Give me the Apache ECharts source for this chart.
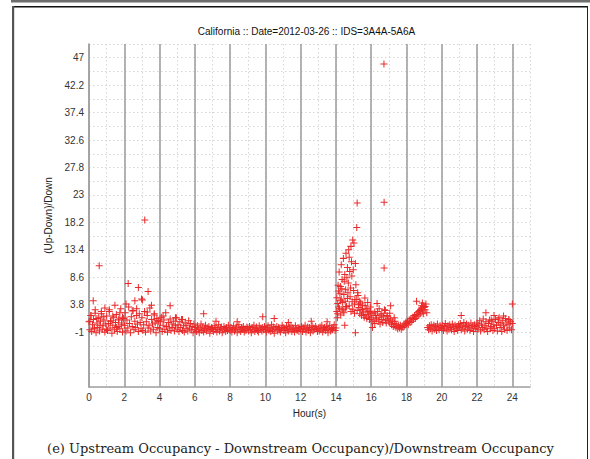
<!DOCTYPE html>
<html>
<head>
<meta charset="utf-8">
<script src="https://cdn.jsdelivr.net/npm/echarts@6/dist/echarts.min.js"></script>
<style>
  html, body { margin: 0; padding: 0; background: #fff; }
  #chart { width: 590px; height: 459px; }
</style>
</head>
<body>
<div id="chart"></div>
<script>
// Occupancy ratio (Up-Down)/Down, one sample every 3 minutes from 0 h to 24 h
const sampleStepHours = 0.05;
const ratio = [
  // 0 h
  0.8,-0.6,1.9,-0.9,0.3, 1.2,-0.4,2.3,-1.1,0.6, -0.2,1.5,-0.8,0.9,2.6, -0.5,0.1,1.1,-1.0,0.4,
  // 1 h
  1.8,-0.7,0.5,2.9,-0.3, 1.0,-1.2,0.2,1.6,-0.6, 0.7,2.1,-0.9,0.0,1.3, -0.4,3.1,0.6,-1.0,1.4,
  // 2 h
  0.2,2.4,-0.8,1.1,-0.3, 3.4,0.5,-1.1,1.7,0.0, 2.8,-0.6,0.9,-0.2,1.9, 0.4,-0.9,2.2,0.7,-0.4,
  // 3 h
  1.5,-0.7,0.3,2.6,-1.0, 0.8,1.9,-0.3,0.1,3.2, -0.8,1.2,0.4,-0.5,2.0, 0.6,-1.1,1.0,-0.2,0.9,
  // 4 h
  -0.4,0.8,1.6,-0.9,0.2, 1.1,-0.6,2.4,0.0,-1.0, 0.7,-0.3,1.3,-0.7,0.4, -0.2,0.9,-0.8,0.1,1.5,
  // 5 h
  -0.5,0.3,-0.9,0.8,-0.2, 1.2,-0.7,0.1,-1.0,0.6, -0.4,0.2,-0.8,1.0,-0.3, 0.5,-0.6,0.0,-1.1,0.4,
  // 6 h
  -0.6,-0.2,-0.9,0.1,-0.5, -1.1,-0.3,0.4,-0.7,-0.1, -1.0,-0.4,0.2,-0.8,-0.3, -0.6,0.0,-1.2,-0.5,-0.2,
  // 7 h
  -0.4,-0.9,0.1,-0.6,-0.2, -1.0,-0.5,0.3,-0.8,-0.3, -0.1,-1.1,-0.6,0.0,-0.4, -0.9,-0.2,-0.7,0.2,-0.5,
  // 8 h
  -0.7,-0.2,-1.0,-0.4,0.1, -0.8,-0.5,-0.1,-1.1,-0.3, 0.3,-0.6,-0.9,-0.2,-0.5, 0.0,-1.0,-0.4,-0.7,-0.1,
  // 9 h
  -0.3,-0.8,0.0,-0.5,-1.1, -0.2,-0.6,0.2,-0.9,-0.4, -0.1,-0.7,-1.0,0.1,-0.5, -0.3,-0.8,-0.2,-0.6,0.0,
  // 10 h
  -0.5,-1.0,-0.2,0.1,-0.7, -0.4,-0.9,0.3,-0.6,-0.1, -1.2,-0.3,-0.5,0.0,-0.8, -0.2,-0.6,-1.0,-0.4,0.2,
  // 11 h
  -0.2,-0.7,-0.4,-1.1,0.0, -0.5,-0.8,-0.1,-0.6,0.2, -0.9,-0.3,-0.5,-1.0,0.1, -0.4,-0.7,-0.2,-0.9,-0.3,
  // 12 h
  -0.6,0.0,-0.9,-0.3,-0.5, 0.2,-1.0,-0.4,-0.1,-0.7, -0.2,-1.1,-0.5,0.1,-0.8, -0.3,-0.6,0.0,-0.4,-0.9,
  // 13 h
  -0.3,-0.8,-0.1,-0.6,0.2, -1.0,-0.4,-0.2,-0.7,0.0, -0.5,-1.1,-0.3,0.1,-0.8, -0.4,-0.6,-0.2,0.3,-0.7,
  // 14 h
  -0.3,2.6,4.0,6.2,3.1, 7.0,4.8,8.2,2.7,5.6, 9.1,6.4,3.5,10.3,7.6, 12.1,5.2,14.0,8.8,15.1,
  // 15 h
  6.3,3.9,11.0,4.7,2.8, 5.4,3.3,2.2,4.1,1.9, 3.0,2.5,1.6,3.6,2.1, 1.4,2.7,1.8,1.2,2.4,
  // 16 h
  1.5,0.8,2.2,1.1,0.5, 1.9,1.3,2.6,0.9,1.6, 0.4,2.0,1.2,0.7,1.8, 2.9,1.0,0.6,1.7,1.3,
  // 17 h
  1.0,0.6,1.3,0.3,0.8, 0.0,0.5,0.9,-0.2,0.3, -0.4,0.1,-0.3,0.2,-0.5, 0.0,-0.2,0.4,0.1,0.6,
  // 18 h
  0.5,0.9,0.3,1.1,0.7, 1.4,0.9,1.6,1.2,1.9, 1.4,2.1,1.7,2.4,2.0, 2.8,2.3,3.2,2.7,3.6,
  // 19 h
  3.3,2.9,3.9,2.4,-0.2, -0.6,0.1,-0.4,0.3,-0.8, -0.1,0.2,-0.5,0.0,-0.7, 0.4,-0.3,-0.6,0.1,-0.2,
  // 20 h
  -0.4,0.2,-0.7,0.0,0.5, -0.3,-0.8,0.1,-0.5,0.3, -0.2,-0.6,0.4,-0.1,-0.9, 0.2,-0.4,0.0,-0.7,0.3,
  // 21 h
  -0.2,0.5,-0.6,0.1,-0.3, 0.7,-0.8,0.0,0.4,-0.5, 0.2,-0.1,-0.7,0.6,-0.3, 0.1,-0.9,0.3,-0.4,0.0,
  // 22 h
  0.6,-0.5,0.2,1.0,-0.8, 0.4,-0.2,1.3,-0.6,0.1, 0.8,-0.4,-0.9,0.5,1.1, -0.3,0.0,0.9,-0.7,0.3,
  // 23 h
  -0.4,1.2,0.2,-0.8,0.7, 1.5,-0.2,0.4,-0.9,1.0, 0.1,-0.5,1.4,0.6,-0.7, 0.3,1.1,-0.3,0.8,-0.6,
  // 24 h
  0.5
];

// Additional readings between the regular samples (spikes and busy periods)
const extraHours = [
  0.05, 0.12, 0.24, 0.30, 0.35, 0.45, 0.58, 0.62, 0.70, 0.80, 0.90, 1.00,
  1.15, 1.22, 1.35, 1.47, 1.55, 1.68, 1.75, 1.85, 1.90,
  2.10, 2.22, 2.45, 2.60, 2.70, 2.80, 2.98, 3.03, 3.16, 3.30, 3.35, 3.54, 3.70, 3.85,
  4.20, 4.60, 4.90, 5.30, 6.50, 7.20, 8.40, 9.85, 10.50, 11.30, 12.60, 13.50,
  14.05, 14.08, 14.10, 14.12, 14.15, 14.18, 14.22, 14.25, 14.27, 14.30, 14.33, 14.35, 14.38,
  14.42, 14.45, 14.47, 14.50, 14.52, 14.55, 14.57, 14.62, 14.65, 14.68, 14.72, 14.75, 14.78, 14.83,
  14.85, 14.88, 14.92, 14.95, 14.98, 15.02, 15.05, 15.07, 15.10, 15.13, 15.18, 15.20, 15.23,
  15.28, 15.35, 15.42, 15.50, 15.58, 15.64, 15.72, 15.80, 15.88, 15.95,
  16.07, 16.20, 16.33, 16.45, 16.60, 16.72, 16.73, 16.73, 16.80, 16.90,
  17.05, 17.10, 17.30,
  18.57, 18.70, 18.80, 18.85, 18.90, 18.95, 19.05,
  21.10, 22.50, 22.80, 22.96, 23.20, 23.50, 23.80, 24.00
];
const extraRatio = [
  0.9, 1.9, 4.5, -0.3, 2.9, 1.4, 10.6, 0.2, 2.2, 1.7, 3.2, -0.5,
  2.6, 0.9, 1.8, 3.7, -0.2, 1.1, 2.4, 0.3, 1.6,
  3.9, 7.5, 2.7, 4.5, 3.1, 6.8, 4.8, 4.6, 18.6, 2.5, 6.1, 3.7, 2.2, 1.4,
  1.8, 3.6, 1.5, 1.2, 2.2, 0.9, 0.8, 1.7, 1.4, 0.7, 0.9, 0.8,
  5.0, 1.5, 2.2, 7.2, 3.4, 9.5, 5.8, 4.5, 2.0, 10.8, 6.6, 3.0, 4.2,
  11.9, 2.4, 7.9, 0.2, 4.4, 3.2, 12.8, 8.5, 4.9, 5.9, 13.4, 3.6, 9.6, 6.7,
  2.6, 11.3, 4.3, 3.0, 9.9, 14.6, 2.3, 4.7, -1.1, 7.3, 17.3, 21.6, 5.9,
  3.8, 4.4, 2.9, 3.7, 2.0, 4.95, 3.1, 4.2, 2.6, 3.4,
  -0.2, 2.5, 4.0, 3.1, 2.2, 45.9, 21.7, 10.2, 2.8, 1.9,
  2.3, 3.6, 1.5,
  4.4, 2.6, 3.0, 3.6, 4.1, 2.2, 3.5,
  1.9, 2.4, 1.1, 1.9, 1.3, 1.8, 1.2, 3.9
];

const xTickLabels = ['0', '2', '4', '6', '8', '10', '12', '14', '16', '18', '20', '22', '24'];
const yTickLabels = ['-1', '3.8', '8.6', '13.4', '18.2', '23', '27.8', '32.6', '37.4', '42.2', '47'];

const titleText = 'California :: Date=2012-03-26 :: IDS=3A4A-5A6A';
const xName = 'Hour(s)';
const yName = '(Up-Down)/Down';
const captionText = '(e) Upstream Occupancy - Downstream Occupancy)/Downstream Occupancy';

const points = ratio.map((v, i) => [i * sampleStepHours, v])
  .concat(extraHours.map((h, i) => [h, extraRatio[i]]));

const sans = 'Liberation Sans, Arial, sans-serif';
const plusMark = 'path://M3.85,0h1.3v3.85h3.85v1.3h-3.85v3.85h-1.3v-3.85h-3.85v-1.3h3.85z';

function pickLabel(list, v) {
  const hit = list.find(t => Math.abs(parseFloat(t) - v) < 1e-6);
  return hit === undefined ? '' : hit;
}

const gridBox = { left: 89, right: 60, top: 44, bottom: 72 };
const plotCenterX = gridBox.left + (590 - gridBox.left - gridBox.right) / 2;

const chart = echarts.init(document.getElementById('chart'), null, { renderer: 'svg' });
chart.setOption({
  animation: false,
  backgroundColor: '#fff',
  grid: gridBox,
  xAxis: [
    {
      type: 'value', min: 0, max: 25, interval: 1,
      name: xName, nameLocation: 'middle', nameGap: 21,
      nameTextStyle: { fontFamily: sans, fontSize: 10, color: '#222' },
      axisLine: { show: true, onZero: false, lineStyle: { color: '#a0a0a0', width: 1.6 } },
      axisTick: { show: false },
      axisLabel: {
        formatter: v => pickLabel(xTickLabels, v),
        fontFamily: sans, fontSize: 10, color: '#333', margin: 5
      },
      splitLine: { show: true, lineStyle: { type: [1.5, 2.5], color: '#d6d6d6', width: 1 } }
    },
    {
      // solid hour lines every 2 h
      type: 'value', min: 0, max: 25, interval: 2, position: 'top',
      axisLine: { show: false }, axisTick: { show: false }, axisLabel: { show: false },
      splitLine: { show: true, showMaxLine: false, lineStyle: { color: '#a0a0a0', width: 1.6 } }
    }
  ],
  yAxis: {
    type: 'value', min: -10.6, max: 49.4, interval: 2.4,
    name: yName, nameLocation: 'middle', nameGap: 30, nameRotate: 90,
    nameTextStyle: { fontFamily: sans, fontSize: 10, color: '#222' },
    axisLine: { show: true, onZero: false, lineStyle: { color: '#a0a0a0', width: 1.6 } },
    axisTick: { show: false },
    axisLabel: {
      formatter: v => pickLabel(yTickLabels, v),
      fontFamily: sans, fontSize: 10, color: '#333', margin: 5
    },
    splitLine: { show: true, lineStyle: { type: [1.5, 2.5], color: '#d6d6d6', width: 1 } }
  },
  series: [{
    type: 'scatter',
    xAxisIndex: 0,
    data: points,
    symbol: plusMark,
    symbolSize: 7,
    itemStyle: { color: '#ea2a2a', opacity: 1 },
    z: 5
  }],
  graphic: [
    { type: 'rect', silent: true, shape: { x: 11, y: 0, width: 579, height: 2.5 }, style: { fill: '#6e6e6e' } },
    { type: 'rect', silent: true, shape: { x: 12, y: 6, width: 576, height: 1.5 }, style: { fill: '#111' } },
    { type: 'rect', silent: true, shape: { x: 12, y: 6, width: 2.2, height: 453 }, style: { fill: '#555' } },
    { type: 'rect', silent: true, shape: { x: 587, y: 6, width: 1, height: 453 }, style: { fill: '#222' } },
    {
      type: 'text', silent: true, x: plotCenterX - 3, y: 31,
      style: { text: titleText, font: '10px ' + sans, fill: '#111', align: 'center', verticalAlign: 'middle' }
    },
    {
      type: 'text', silent: true, x: 300.5, y: 448,
      style: { text: captionText, font: '13px "DejaVu Serif", serif', fill: '#222', align: 'center', verticalAlign: 'middle' }
    }
  ]
});
</script>
</body>
</html>
